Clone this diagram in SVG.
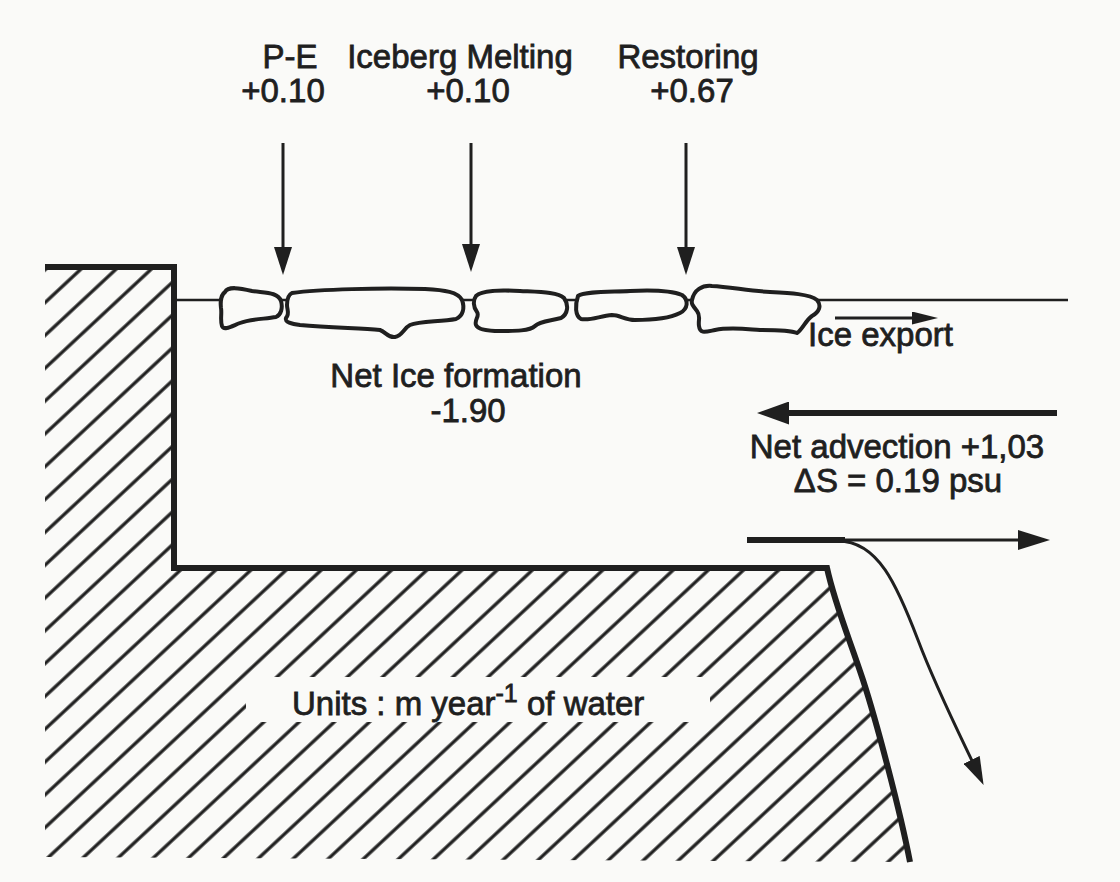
<svg xmlns="http://www.w3.org/2000/svg" width="1120" height="882" viewBox="0 0 1120 882">
<style>
text { font-family: "Liberation Sans", Arial, Helvetica, sans-serif; font-size: 33px; fill: #1f1f1f; stroke: #1f1f1f; stroke-width: 0.8; }
.c { text-anchor: middle; }
.bold { stroke: #1f1f1f; stroke-width: 6; fill: none; stroke-linejoin: miter; }
.thick { stroke: #1f1f1f; stroke-width: 6; fill: none; }
.thin { stroke: #1f1f1f; stroke-width: 3; fill: none; }
.water { stroke: #1f1f1f; stroke-width: 2.5; fill: none; }
.floe { fill: #fafaf8; stroke: #1f1f1f; stroke-width: 4; stroke-linejoin: round; }
</style>
<defs>
<pattern id="hatch" patternUnits="userSpaceOnUse" width="20" height="24" patternTransform="rotate(-43)">
<line x1="-1" y1="12" x2="21" y2="12" stroke="#1f1f1f" stroke-width="3.3"/>
</pattern>
<clipPath id="groundClip">
<path d="M45,267 L174,267 L174,568 L827,568 C835,605 850,640 863,680 S900,810 910,862 L45,857 Z"/>
</clipPath>
<marker id="mS" markerUnits="userSpaceOnUse" viewBox="0 0 28 18" markerWidth="28" markerHeight="18" refX="8" refY="9" orient="auto">
<path d="M0,0 L28,9 L0,18 Z" fill="#1f1f1f"/>
</marker>
<marker id="mE" markerUnits="userSpaceOnUse" viewBox="0 0 26 13" markerWidth="26" markerHeight="13" refX="8" refY="6.5" orient="auto">
<path d="M0,0 L26,6.5 L0,13 Z" fill="#1f1f1f"/>
</marker>
<marker id="mL" markerUnits="userSpaceOnUse" viewBox="0 0 32 23" markerWidth="32" markerHeight="23" refX="8" refY="11.5" orient="auto">
<path d="M0,0 L32,11.5 L0,23 Z" fill="#1f1f1f"/>
</marker>
<marker id="mR" markerUnits="userSpaceOnUse" viewBox="0 0 32 20" markerWidth="32" markerHeight="20" refX="8" refY="10" orient="auto">
<path d="M0,0 L32,10 L0,20 Z" fill="#1f1f1f"/>
</marker>
</defs>

<rect x="0" y="0" width="1120" height="882" fill="#fafaf8"/>

<g id="ground">
<rect x="40" y="260" width="880" height="610" fill="url(#hatch)" clip-path="url(#groundClip)"/>
<path class="bold" d="M45,267 L174,267 L174,568 L827,568 C835,605 850,640 863,680 S900,810 910,862"/>
</g>

<g id="units-label">
<rect x="246" y="677" width="464" height="45" fill="#fafaf8"/>
<text x="292" y="715">Units : m year<tspan dy="-13" font-size="25">-1</tspan><tspan dy="13"> of water</tspan></text>
</g>

<g id="sea-surface">
<line class="water" x1="177" y1="300" x2="1068" y2="300"/>
</g>

<g id="ice">
<path class="floe" d="M225,292 C228,286 240,288 252,291 C265,293 278,292 281,301 C283,308 281,315 276,317 C265,319 250,319 240,323 C232,326 224,331 222,326 C220,320 222,314 221,308 C220,300 222,294 225,292 Z"/>
<path class="floe" d="M292,293 C320,289 380,288 425,289 C445,290 458,292 462,300 C465,308 463,316 456,319 C440,322 420,321 410,325 C404,328 402,336 395,337 C388,338 386,332 380,330 C360,328 330,328 300,325 C292,324 284,322 286,318 C290,314 287,310 287,305 C287,300 288,295 292,293 Z"/>
<path class="floe" d="M476,296 C482,290 500,290 520,291 C540,292 558,292 564,298 C569,305 568,314 561,318 C550,321 540,321 535,326 C530,331 515,331 500,331 C488,331 478,330 476,325 C474,320 480,316 477,312 C473,307 473,300 476,296 Z"/>
<path class="floe" d="M578,296 C585,291 610,292 630,291 C650,290 670,290 682,295 C689,300 688,309 680,313 C670,318 650,320 635,320 C625,320 620,315 612,315 C600,316 590,321 581,319 C575,316 575,305 578,296 Z"/>
<path class="floe" d="M692,300 C694,290 702,285 712,286 C730,287 750,291 770,292 C790,293 810,294 817,300 C822,306 819,312 812,316 C806,320 802,330 797,333 C790,330 775,330 760,330 C745,329 730,327 715,330 C705,332 700,334 699,326 C698,320 701,316 697,311 C693,306 691,304 692,300 Z"/>
</g>

<g id="label-pe">
<text class="c" x="290" y="68">P-E</text>
<text class="c" x="283" y="102">+0.10</text>
</g>
<g id="label-iceberg">
<text class="c" x="460" y="68">Iceberg Melting</text>
<text class="c" x="468" y="102">+0.10</text>
</g>
<g id="label-restoring">
<text class="c" x="688" y="68">Restoring</text>
<text class="c" x="692" y="102">+0.67</text>
</g>
<g id="label-net-ice">
<text class="c" x="456" y="387">Net Ice formation</text>
<text class="c" x="468" y="422">-1.90</text>
</g>
<g id="label-ice-export">
<text x="808" y="346">Ice export</text>
</g>
<g id="label-advection">
<text class="c" x="897" y="458">Net advection +1,03</text>
<text class="c" x="898" y="492">ΔS = 0.19 psu</text>
</g>

<g id="connectors">
<line class="thin" x1="283" y1="143" x2="283" y2="255" marker-end="url(#mS)"/>
<line class="thin" x1="471" y1="143" x2="471" y2="252" marker-end="url(#mS)"/>
<line class="thin" x1="686" y1="143" x2="686" y2="255" marker-end="url(#mS)"/>
<line class="thin" x1="835" y1="318" x2="920" y2="318" marker-end="url(#mE)"/>
<line class="thick" x1="1057" y1="413" x2="781" y2="413" marker-end="url(#mL)"/>
<line class="thick" x1="747" y1="540" x2="845" y2="540"/>
<line class="thin" x1="843" y1="540" x2="1026" y2="540" marker-end="url(#mR)"/>
<path class="thin" d="M838,541 C878,541 897,585 918,640 C935,685 955,725 975,767" marker-end="url(#mS)"/>
</g>
</svg>
